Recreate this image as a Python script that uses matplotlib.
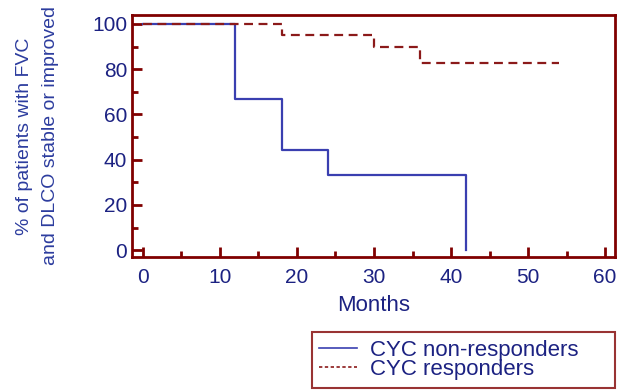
import matplotlib
matplotlib.use("Agg")
import matplotlib.pyplot as plt
from matplotlib.lines import Line2D

plt.rcParams['font.family'] = ['Liberation Sans', 'DejaVu Sans']

# Kaplan-Meier style step data
nonresp_months = [0, 12, 18, 24, 42, 42]
nonresp_pct = [100, 66.7, 44.4, 33.3, 33.3, 0]
resp_months = [0, 18, 30, 36, 54]
resp_pct = [100, 95.2, 89.7, 82.8, 82.8]

x_ticks = [0, 10, 20, 30, 40, 50, 60]
y_ticks = [0, 20, 40, 60, 80, 100]

frame_col = '#800000'
text_col = '#1c2282'
label_col = '#2c3c9e'
blue = '#3a3fb0'
red = '#8b1a1a'

fig = plt.figure(figsize=(6.17, 3.9), dpi=100)
ax = fig.add_axes([0.214, 0.341, 0.783, 0.621])

ax.step(nonresp_months, nonresp_pct, where='post', color=blue, lw=1.6)
ax.step(resp_months, resp_pct, where='post', color=red, lw=1.6, ls=(0, (4, 2.5)))

ax.set_xlim(-1.4, 61.3)
ax.set_ylim(-3, 104)
ax.set_xticks(x_ticks)
ax.set_yticks(y_ticks)
ax.set_xticks(range(5, 60, 10), minor=True)
ax.set_yticks(range(10, 100, 20), minor=True)

for s in ax.spines.values():
    s.set_color(frame_col)
    s.set_linewidth(2)
ax.tick_params(which='both', direction='in', color=frame_col, width=2,
               labelcolor=text_col, labelsize=15)
ax.tick_params(which='major', length=7)
ax.tick_params(which='minor', length=4)
ax.tick_params(axis='x', pad=8)

ax.set_xlabel('Months', color=text_col, fontsize=16, labelpad=6)
ax.set_ylabel('% of patients with FVC\nand DLCO stable or improved',
              color=label_col, fontsize=14, labelpad=24, linespacing=1.7)

handles = [Line2D([], [], color=blue, lw=1.2),
           Line2D([], [], color=red, lw=1.2, ls=(0, (2, 1.5)))]
leg = fig.legend(handles, ['CYC non-responders', 'CYC responders'],
                 loc='lower left', bbox_to_anchor=(0.505, 0.005, 0.492, 0.156),
                 mode='expand', fontsize=16, frameon=True, fancybox=False,
                 borderpad=0.35, labelspacing=-0.08, handlelength=1.7,
                 handletextpad=0.6, borderaxespad=0)
leg.get_frame().set_edgecolor(frame_col)
leg.get_frame().set_linewidth(1.5)
for t in leg.get_texts():
    t.set_color(text_col)

fig.savefig('out.png', dpi=100)
